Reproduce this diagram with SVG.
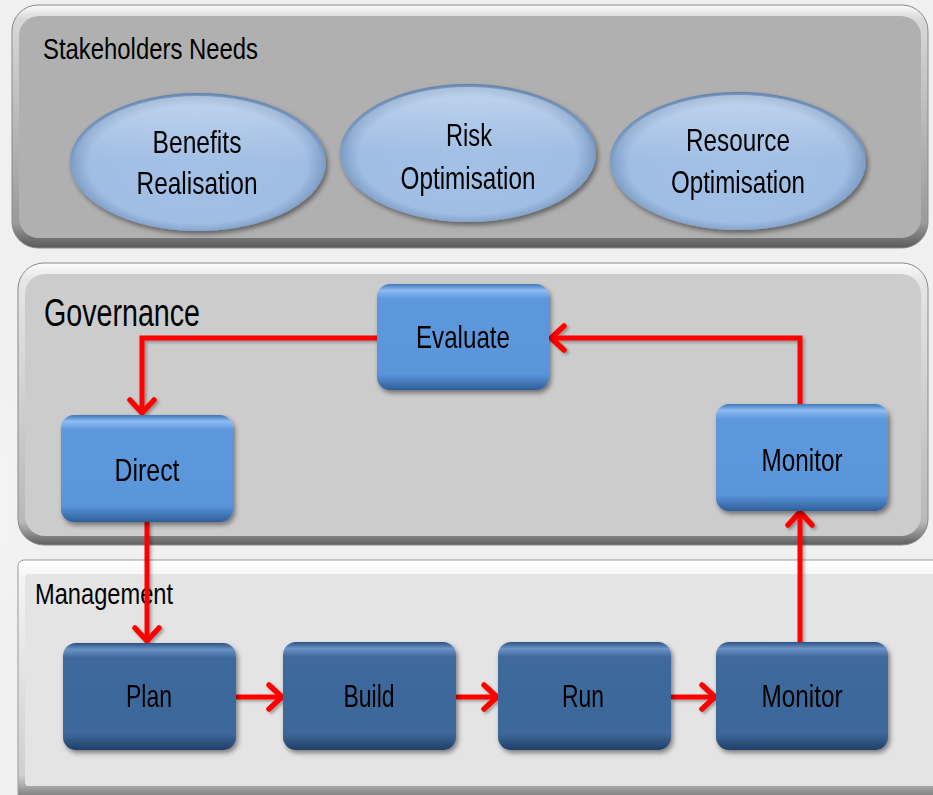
<svg xmlns="http://www.w3.org/2000/svg" width="933" height="795" viewBox="0 0 933 795">
<defs>
<style>
.lbl{font-family:"Liberation Sans",Arial,sans-serif;fill:#000;text-anchor:middle}
.big{font-family:"Liberation Sans",Arial,sans-serif;fill:#000}
.con{fill:none;stroke:#ff0000;stroke-width:5;marker-end:url(#arr)}
</style>
<marker id="arr" viewBox="0 0 30 30" markerWidth="30" markerHeight="30" markerUnits="userSpaceOnUse" refX="25" refY="15" orient="auto">
<path d="M12,3 L25,15 L12,27" fill="none" stroke="#ff0000" stroke-width="5.5" stroke-linecap="round" stroke-linejoin="round"/>
</marker>
<radialGradient id="bgL" cx="0" cy="0.5" r="1">
<stop offset="0" stop-color="#ffffff"/><stop offset="1" stop-color="#f0f0f0" stop-opacity="0"/>
</radialGradient>
<linearGradient id="bevTop" x1="0" y1="0" x2="0" y2="1">
<stop offset="0" stop-color="#fafafa"/><stop offset="0.06" stop-color="#d8d8d8"/><stop offset="0.9" stop-color="#9a9a9a"/><stop offset="1" stop-color="#5a5a5a"/>
</linearGradient>
<linearGradient id="bevGov" x1="0" y1="0" x2="0" y2="1">
<stop offset="0" stop-color="#fcfcfc"/><stop offset="0.06" stop-color="#e6e6e6"/><stop offset="0.92" stop-color="#b8b8b8"/><stop offset="1" stop-color="#5e5e5e"/>
</linearGradient>
<linearGradient id="bevMgmt" x1="0" y1="0" x2="0" y2="1">
<stop offset="0" stop-color="#ffffff"/><stop offset="0.08" stop-color="#f4f4f4"/><stop offset="0.9" stop-color="#cfcfcf"/><stop offset="1" stop-color="#707070"/>
</linearGradient>
<linearGradient id="gBox" x1="0" y1="0" x2="0" y2="1">
<stop offset="0" stop-color="#3f78bb"/><stop offset="0.06" stop-color="#8dbcf0"/><stop offset="0.14" stop-color="#5d98dc"/><stop offset="0.85" stop-color="#5a95da"/><stop offset="1" stop-color="#2e5f9a"/>
</linearGradient>
<linearGradient id="mBox" x1="0" y1="0" x2="0" y2="1">
<stop offset="0" stop-color="#2d5282"/><stop offset="0.06" stop-color="#6a93c4"/><stop offset="0.14" stop-color="#3f699c"/><stop offset="0.85" stop-color="#3d6799"/><stop offset="1" stop-color="#203f68"/>
</linearGradient>
<radialGradient id="ell" cx="0.5" cy="0.52" r="0.52">
<stop offset="0" stop-color="#a3c0e6"/><stop offset="0.82" stop-color="#a0bde3"/><stop offset="0.95" stop-color="#7f9fc8"/><stop offset="1" stop-color="#5f7fa8"/>
</radialGradient>
<linearGradient id="ellHi" x1="0" y1="0" x2="0" y2="1">
<stop offset="0" stop-color="#ffffff" stop-opacity="0.7"/><stop offset="0.5" stop-color="#ffffff" stop-opacity="0"/>
</linearGradient>
<filter id="sh" x="-10%" y="-10%" width="130%" height="140%">
<feDropShadow dx="2" dy="3" stdDeviation="2.5" flood-color="#000" flood-opacity="0.45"/>
</filter>
<filter id="shl" x="-10%" y="-10%" width="130%" height="130%">
<feDropShadow dx="2" dy="2" stdDeviation="1.5" flood-color="#000" flood-opacity="0.3"/>
</filter>
</defs>

<rect x="0" y="0" width="933" height="795" fill="#f0f0f0"/>
<ellipse cx="0" cy="500" rx="90" ry="110" fill="url(#bgL)"/>

<g id="stakeholders-panel">
<rect x="12" y="5" width="916" height="243" rx="26" fill="url(#bevTop)" stroke="#8a8a8a" stroke-width="1"/>
<rect x="19" y="16" width="902" height="222" rx="20" fill="#b0b0b0"/>
<text class="big" x="43" y="59" font-size="29" textLength="215" lengthAdjust="spacingAndGlyphs">Stakeholders Needs</text>
</g>

<g id="governance-panel">
<rect x="18" y="263" width="910" height="282" rx="26" fill="url(#bevGov)" stroke="#8a8a8a" stroke-width="1"/>
<rect x="25" y="274" width="896" height="262" rx="20" fill="#cccccc"/>
<text class="big" x="44" y="326" font-size="38" textLength="156" lengthAdjust="spacingAndGlyphs">Governance</text>
</g>

<g id="management-panel">
<rect x="18" y="560" width="930" height="240" rx="6" fill="url(#bevMgmt)" stroke="#9a9a9a" stroke-width="1"/>
<rect x="25" y="574" width="920" height="212" rx="3" fill="#e4e4e4"/>
<text class="big" x="35" y="604" font-size="30" textLength="138" lengthAdjust="spacingAndGlyphs">Management</text>
</g>

<g id="benefits-realisation" filter="url(#sh)">
<ellipse cx="198" cy="162" rx="128" ry="69" fill="url(#ell)"/>
<ellipse cx="198" cy="162" rx="124" ry="66" fill="url(#ellHi)" opacity="0.5"/>
<text class="lbl" x="197" y="153" font-size="32" textLength="89" lengthAdjust="spacingAndGlyphs">Benefits</text>
<text class="lbl" x="197" y="194" font-size="32" textLength="121" lengthAdjust="spacingAndGlyphs">Realisation</text>
</g>
<g id="risk-optimisation" filter="url(#sh)">
<ellipse cx="468" cy="153" rx="128" ry="69" fill="url(#ell)"/>
<ellipse cx="468" cy="153" rx="124" ry="66" fill="url(#ellHi)" opacity="0.5"/>
<text class="lbl" x="469" y="146" font-size="32" textLength="46" lengthAdjust="spacingAndGlyphs">Risk</text>
<text class="lbl" x="468" y="189" font-size="32" textLength="135" lengthAdjust="spacingAndGlyphs">Optimisation</text>
</g>
<g id="resource-optimisation" filter="url(#sh)">
<ellipse cx="738" cy="161" rx="128" ry="69" fill="url(#ell)"/>
<ellipse cx="738" cy="161" rx="124" ry="66" fill="url(#ellHi)" opacity="0.5"/>
<text class="lbl" x="738" y="151" font-size="32" textLength="104" lengthAdjust="spacingAndGlyphs">Resource</text>
<text class="lbl" x="738" y="193" font-size="32" textLength="134" lengthAdjust="spacingAndGlyphs">Optimisation</text>
</g>

<g id="connectors" filter="url(#shl)">
<path class="con" d="M377,338 H142 V413"/>
<path class="con" d="M147,522 V641"/>
<path class="con" d="M236,697 H282"/>
<path class="con" d="M456,697 H497"/>
<path class="con" d="M671,697 H715"/>
<path class="con" d="M800,642 V512"/>
<path class="con" d="M800,404 V338 H551"/>
</g>

<g id="evaluate" filter="url(#sh)">
<rect x="377" y="284" width="172" height="106" rx="13" fill="url(#gBox)"/>
<text class="lbl" x="463" y="348" font-size="32" textLength="94" lengthAdjust="spacingAndGlyphs">Evaluate</text>
</g>
<g id="direct" filter="url(#sh)">
<rect x="61" y="415" width="172" height="107" rx="13" fill="url(#gBox)"/>
<text class="lbl" x="147" y="481" font-size="32" textLength="65" lengthAdjust="spacingAndGlyphs">Direct</text>
</g>
<g id="monitor-governance" filter="url(#sh)">
<rect x="716" y="404" width="172" height="107" rx="13" fill="url(#gBox)"/>
<text class="lbl" x="802" y="471" font-size="32" textLength="81" lengthAdjust="spacingAndGlyphs">Monitor</text>
</g>

<g id="plan" filter="url(#sh)">
<rect x="63" y="643" width="173" height="107" rx="13" fill="url(#mBox)"/>
<text class="lbl" x="149" y="707" font-size="32" textLength="46" lengthAdjust="spacingAndGlyphs">Plan</text>
</g>
<g id="build" filter="url(#sh)">
<rect x="283" y="642" width="173" height="108" rx="13" fill="url(#mBox)"/>
<text class="lbl" x="369" y="707" font-size="32" textLength="51" lengthAdjust="spacingAndGlyphs">Build</text>
</g>
<g id="run" filter="url(#sh)">
<rect x="498" y="642" width="173" height="108" rx="13" fill="url(#mBox)"/>
<text class="lbl" x="583" y="707" font-size="32" textLength="42" lengthAdjust="spacingAndGlyphs">Run</text>
</g>
<g id="monitor-management" filter="url(#sh)">
<rect x="716" y="642" width="172" height="108" rx="13" fill="url(#mBox)"/>
<text class="lbl" x="802" y="707" font-size="32" textLength="81" lengthAdjust="spacingAndGlyphs">Monitor</text>
</g>
</svg>
